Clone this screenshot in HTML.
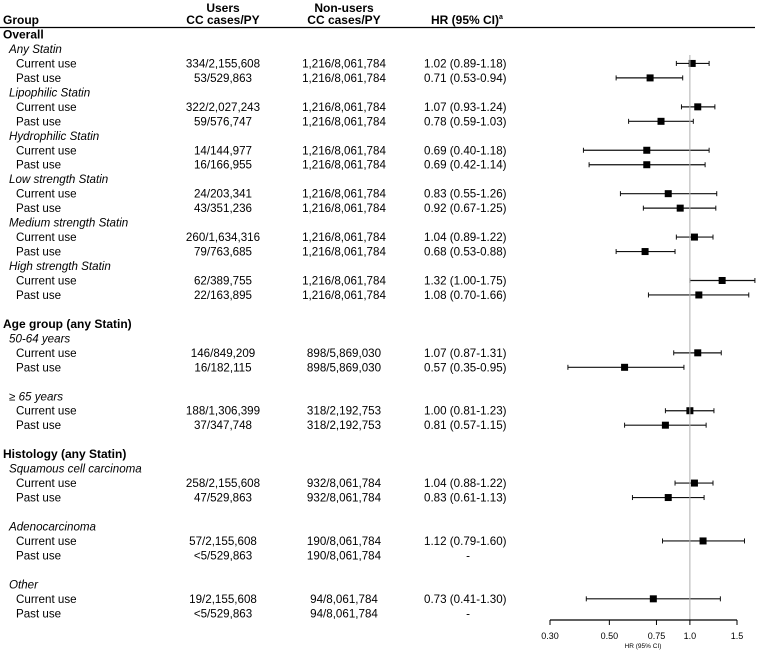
<!DOCTYPE html>
<html><head><meta charset="utf-8">
<style>
body{margin:0;background:#fff;}
svg text{font-family:"Liberation Sans",Arial,sans-serif;}
</style></head>
<body>
<svg id="fp" width="757" height="652" viewBox="0 0 757 652" xmlns="http://www.w3.org/2000/svg">
<g id="hdr" font-size="12" font-weight="bold" fill="#000">
<text x="3" y="24">Group</text>
<text x="223" y="12" text-anchor="middle">Users</text>
<text x="223" y="24" text-anchor="middle">CC cases/PY</text>
<text x="344" y="12" text-anchor="middle">Non-users</text>
<text x="344" y="24" text-anchor="middle">CC cases/PY</text>
<text x="431" y="24">HR (95% CI)<tspan font-size="7" dy="-5">a</tspan></text>
</g>
<line x1="0" y1="27.5" x2="755" y2="27.5" stroke="#000" stroke-width="1.3"/>
<g id="rows"></g>
<g id="axis"></g>
</svg>
<script>
// row labels: [type, label, users, nonusers, hrText]
const rowLabels = [
 ["h","Overall"],["s","Any Statin"],
 ["r","Current use","334/2,155,608","1,216/8,061,784","1.02 (0.89-1.18)"],
 ["r","Past use","53/529,863","1,216/8,061,784","0.71 (0.53-0.94)"],
 ["s","Lipophilic Statin"],
 ["r","Current use","322/2,027,243","1,216/8,061,784","1.07 (0.93-1.24)"],
 ["r","Past use","59/576,747","1,216/8,061,784","0.78 (0.59-1.03)"],
 ["s","Hydrophilic Statin"],
 ["r","Current use","14/144,977","1,216/8,061,784","0.69 (0.40-1.18)"],
 ["r","Past use","16/166,955","1,216/8,061,784","0.69 (0.42-1.14)"],
 ["s","Low strength Statin"],
 ["r","Current use","24/203,341","1,216/8,061,784","0.83 (0.55-1.26)"],
 ["r","Past use","43/351,236","1,216/8,061,784","0.92 (0.67-1.25)"],
 ["s","Medium strength Statin"],
 ["r","Current use","260/1,634,316","1,216/8,061,784","1.04 (0.89-1.22)"],
 ["r","Past use","79/763,685","1,216/8,061,784","0.68 (0.53-0.88)"],
 ["s","High strength Statin"],
 ["r","Current use","62/389,755","1,216/8,061,784","1.32 (1.00-1.75)"],
 ["r","Past use","22/163,895","1,216/8,061,784","1.08 (0.70-1.66)"],
 ["b"],
 ["h","Age group (any Statin)"],["s","50-64 years"],
 ["r","Current use","146/849,209","898/5,869,030","1.07 (0.87-1.31)"],
 ["r","Past use","16/182,115","898/5,869,030","0.57 (0.35-0.95)"],
 ["b"],["s","\u2265 65 years"],
 ["r","Current use","188/1,306,399","318/2,192,753","1.00 (0.81-1.23)"],
 ["r","Past use","37/347,748","318/2,192,753","0.81 (0.57-1.15)"],
 ["b"],
 ["h","Histology (any Statin)"],["s","Squamous cell carcinoma"],
 ["r","Current use","258/2,155,608","932/8,061,784","1.04 (0.88-1.22)"],
 ["r","Past use","47/529,863","932/8,061,784","0.83 (0.61-1.13)"],
 ["b"],["s","Adenocarcinoma"],
 ["r","Current use","57/2,155,608","190/8,061,784","1.12 (0.79-1.60)"],
 ["r","Past use","<5/529,863","190/8,061,784","-"],
 ["b"],["s","Other"],
 ["r","Current use","19/2,155,608","94/8,061,784","0.73 (0.41-1.30)"],
 ["r","Past use","<5/529,863","94/8,061,784","-"]
];
// estimates per row index (null = no estimate)
const hrValues = [null,null,1.02,0.71,null,1.07,0.78,null,0.69,0.69,null,0.83,0.92,null,1.04,0.68,null,1.32,1.08,null,null,null,1.07,0.57,null,null,1.00,0.81,null,null,null,1.04,0.83,null,null,1.12,null,null,null,0.73,null];
const lowValues = [null,null,0.89,0.53,null,0.93,0.59,null,0.40,0.42,null,0.55,0.67,null,0.89,0.53,null,1.00,0.70,null,null,null,0.87,0.35,null,null,0.81,0.57,null,null,null,0.88,0.61,null,null,0.79,null,null,null,0.41,null];
const highValues = [null,null,1.18,0.94,null,1.24,1.03,null,1.18,1.14,null,1.26,1.25,null,1.22,0.88,null,1.75,1.66,null,null,null,1.31,0.95,null,null,1.23,1.15,null,null,null,1.22,1.13,null,null,1.60,null,null,null,1.30,null];
const tickValues = [0.30,0.50,0.75,1.0,1.5];
const tickLabels = ["0.30","0.50","0.75","1.0","1.5"];

const NS="http://www.w3.org/2000/svg";
const X0=550,X1=737,DMIN=0.30,DMAX=1.5;
const FS=11.6;
function xScale(v){return X0+(Math.log(v)-Math.log(DMIN))/(Math.log(DMAX)-Math.log(DMIN))*(X1-X0);}
function yScale(i){return 34+14.47*i;}
function mk(tag,attrs,parent){const e=document.createElementNS(NS,tag);for(const k in attrs)e.setAttribute(k,attrs[k]);parent.appendChild(e);return e;}
const rows=document.getElementById('rows');
const ax=document.getElementById('axis');

const ref=mk('line',{x1:xScale(1),x2:xScale(1),y1:55,y2:620,stroke:'#b0b0b0','stroke-width':1},ax);



rowLabels.forEach((r,i)=>{
 const y=yScale(i)+4.5;
 if(r[0]==='h'){
  const t=mk('text',{x:3,y:y,'font-size':12,'font-weight':'bold'},rows);t.textContent=r[1];
  
  
 } else if(r[0]==='s'){
  const t=mk('text',{x:9,y:y,'font-size':FS,'font-style':'italic'},rows);t.textContent=r[1];
  
  
 } else if(r[0]==='r'){
  const t1=mk('text',{x:16,y:y,'font-size':FS},rows);t1.textContent=r[1];
  
  
  const t2=mk('text',{x:223,y:y,'font-size':FS,'text-anchor':'middle'},rows);t2.textContent=r[2];
  
  
  const t3=mk('text',{x:344,y:y,'font-size':FS,'text-anchor':'middle'},rows);t3.textContent=r[3];
  
  
  const dash=r[4]==='-';
  const t4=mk('text',{x:dash?468:424,y:y,'font-size':FS,'text-anchor':dash?'middle':'start'},rows);t4.textContent=r[4];
  
  
 }
 if(hrValues[i]!=null){
  const yc=yScale(i)+0.5;
  const g=mk('g',{},rows);
  
  
  const xl=xScale(lowValues[i]),xh=xScale(highValues[i]),xm=xScale(hrValues[i]);
  mk('line',{x1:xl,x2:xh,y1:yc,y2:yc,stroke:'#111','stroke-width':1.2},g);
  mk('line',{x1:xl,x2:xl,y1:yc-2.5,y2:yc+2.5,stroke:'#111','stroke-width':1},g);
  mk('line',{x1:xh,x2:xh,y1:yc-2.5,y2:yc+2.5,stroke:'#111','stroke-width':1},g);
  mk('rect',{x:xm-3.5,y:yc-3.5,width:7,height:7,fill:'#000'},g);
 }
});

const axl=mk('line',{x1:X0,x2:X1,y1:620,y2:620,stroke:'#000','stroke-width':1.2},ax);


tickValues.forEach((v,k)=>{
 const x=xScale(v);
 const tk=mk('line',{x1:x,x2:x,y1:620,y2:625,stroke:'#000','stroke-width':1},ax);
 
 
 const tl=mk('text',{x:x,y:639,'font-size':9,'text-anchor':'middle'},ax);tl.textContent=tickLabels[k];
 
 
});
const at=mk('text',{x:643,y:648,'font-size':6.5,'text-anchor':'middle'},ax);at.textContent='HR (95% CI)';


</script>
</body></html>
